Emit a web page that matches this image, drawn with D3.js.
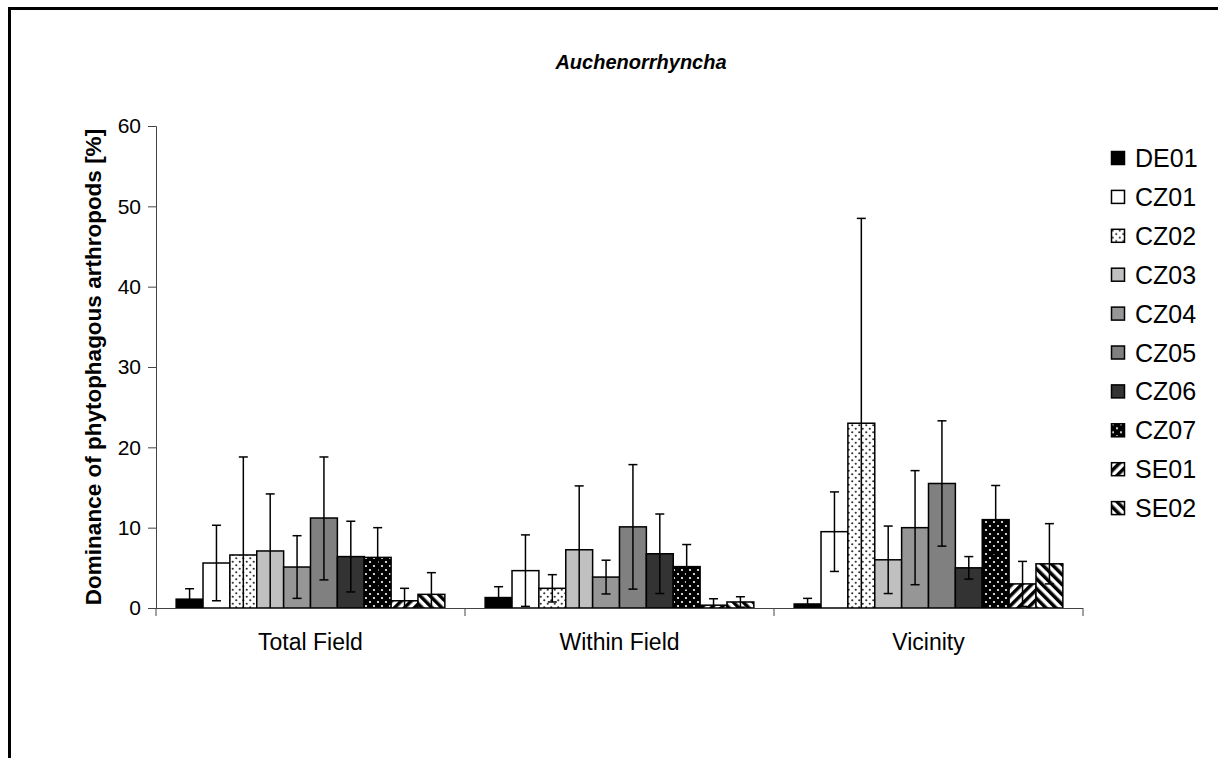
<!DOCTYPE html>
<html>
<head>
<meta charset="utf-8">
<script src="https://cdn.jsdelivr.net/npm/d3@7"></script>
<style>
  body { margin: 0; background: #fff; }
  svg { display: block; font-family: "Liberation Sans", Arial, sans-serif; }
</style>
</head>
<body>
<div id="chart"></div>
<script>
// Auchenorrhyncha dominance chart, grouped bars with error bars

const categories = ["Total Field", "Within Field", "Vicinity"];
const sites = ["DE01", "CZ01", "CZ02", "CZ03", "CZ04", "CZ05", "CZ06", "CZ07", "SE01", "SE02"];
const yTicks = [0, 10, 20, 30, 40, 50, 60];

// mean dominance per site
const totalField = [1.1, 5.6, 6.6, 7.1, 5.1, 11.2, 6.4, 6.3, 0.9, 1.7];
const withinField = [1.3, 4.65, 2.45, 7.25, 3.85, 10.1, 6.75, 5.15, 0.35, 0.75];
const vicinity = [0.5, 9.5, 23.0, 6.0, 10.0, 15.5, 5.0, 11.0, 3.0, 5.5];

// error bar extents (up / down)
const totalFieldErrUp = [1.3, 4.7, 12.2, 7.1, 3.9, 7.6, 4.4, 3.7, 1.55, 2.7];
const totalFieldErrDown = [1.3, 4.7, 12.2, 7.1, 3.9, 7.7, 4.4, 3.7, 1.55, 2.7];
const withinFieldErrUp = [1.35, 4.45, 1.7, 7.95, 2.1, 7.75, 4.95, 2.75, 0.8, 0.65];
const withinFieldErrDown = [1.35, 4.45, 1.7, 7.95, 2.1, 7.75, 4.95, 2.75, 0.8, 0.65];
const vicinityErrUp = [0.7, 4.95, 25.5, 4.2, 7.1, 7.8, 1.4, 4.25, 2.8, 5.0];
const vicinityErrDown = [0.7, 4.95, 25.5, 4.2, 7.1, 7.8, 1.4, 4.25, 2.8, 2.5];

const means = [totalField, withinField, vicinity];
const errsUp = [totalFieldErrUp, withinFieldErrUp, vicinityErrUp];
const errsDown = [totalFieldErrDown, withinFieldErrDown, vicinityErrDown];

const W = 1218, H = 758;
const plot = {left: 156, right: 1083, top: 126, bottom: 608};

const svg = d3.select("#chart").append("svg")
    .attr("width", W)
    .attr("height", H);

// fill patterns
const defs = svg.append("defs");

const dotsLight = defs.append("pattern")
    .attr("id", "dotsLight")
    .attr("patternUnits", "userSpaceOnUse")
    .attr("width", 7).attr("height", 7);
dotsLight.append("rect").attr("width", 7).attr("height", 7).attr("fill", "#fff");
dotsLight.append("circle").attr("cx", 1.75).attr("cy", 1.75).attr("r", 1.1).attr("fill", "#333");
dotsLight.append("circle").attr("cx", 5.25).attr("cy", 5.25).attr("r", 1.1).attr("fill", "#333");

const dotsDark = defs.append("pattern")
    .attr("id", "dotsDark")
    .attr("patternUnits", "userSpaceOnUse")
    .attr("width", 8).attr("height", 8);
dotsDark.append("rect").attr("width", 8).attr("height", 8).attr("fill", "#000");
dotsDark.append("circle").attr("cx", 2).attr("cy", 2).attr("r", 1.1).attr("fill", "#fff");
dotsDark.append("circle").attr("cx", 6).attr("cy", 6).attr("r", 1.1).attr("fill", "#fff");

function stripes(id, angle) {
    const p = defs.append("pattern")
        .attr("id", id)
        .attr("patternUnits", "userSpaceOnUse")
        .attr("width", 7).attr("height", 7)
        .attr("patternTransform", `rotate(${angle})`);
    p.append("rect").attr("width", 7).attr("height", 7).attr("fill", "#fff");
    p.append("rect").attr("width", 3.5).attr("height", 7).attr("fill", "#000");
}
stripes("stripeUp", 45);
stripes("stripeDown", -45);

const fills = ["#000", "#fff", "url(#dotsLight)", "#c0c0c0", "#969696",
    "#808080", "#333", "url(#dotsDark)", "url(#stripeUp)", "url(#stripeDown)"];

// outer frame
svg.append("rect")
    .attr("x", 9.5).attr("y", 8.5)
    .attr("width", W + 20).attr("height", H + 20)
    .attr("fill", "none")
    .attr("stroke", "#000")
    .attr("stroke-width", 3);

// scales
const x0 = d3.scaleBand()
    .domain(categories)
    .range([plot.left, plot.right])
    .padding(0);

const x1 = d3.scaleBand()
    .domain(sites)
    .range([0, x0.bandwidth()])
    .paddingInner(0)
    .paddingOuter(0.75);

const y = d3.scaleLinear()
    .domain([0, 60])
    .range([plot.bottom, plot.top]);

// bars
const rows = [];
categories.forEach((c, gi) => {
    sites.forEach((s, si) => {
        rows.push({cat: c, site: s, si, v: means[gi][si], up: errsUp[gi][si], down: errsDown[gi][si]});
    });
});

svg.append("g").selectAll("rect")
    .data(rows)
    .join("rect")
    .attr("x", d => x0(d.cat) + x1(d.site))
    .attr("y", d => y(d.v))
    .attr("width", x1.bandwidth())
    .attr("height", d => y(0) - y(d.v))
    .attr("fill", d => fills[d.si])
    .attr("stroke", "#000")
    .attr("stroke-width", 1.5);

// error bars
const capW = 4.5;
const eb = svg.append("g")
    .attr("stroke", "#000")
    .attr("stroke-width", 1.5);

rows.forEach(d => {
    const cx = x0(d.cat) + x1(d.site) + x1.bandwidth() / 2;
    const hi = d.v + d.up;
    const lo = Math.max(0, d.v - d.down);
    eb.append("line")
        .attr("x1", cx).attr("x2", cx)
        .attr("y1", y(hi)).attr("y2", y(lo));
    eb.append("line")
        .attr("x1", cx - capW).attr("x2", cx + capW)
        .attr("y1", y(hi)).attr("y2", y(hi));
    if (d.v - d.down > 0) {
        eb.append("line")
            .attr("x1", cx - capW).attr("x2", cx + capW)
            .attr("y1", y(lo)).attr("y2", y(lo));
    }
});

// y axis
const yAxis = svg.append("g")
    .attr("transform", `translate(${plot.left},0)`)
    .call(d3.axisLeft(y).tickValues(yTicks).tickSize(8).tickPadding(7));
yAxis.select(".domain").attr("stroke", "#444");
yAxis.selectAll(".tick line").attr("stroke", "#444");
yAxis.selectAll("text")
    .attr("font-size", 21)
    .attr("font-family", "Liberation Sans, Arial, sans-serif")
    .attr("fill", "#000");

// x axis: ticks at group boundaries
const xAxis = svg.append("g")
    .attr("transform", `translate(0,${plot.bottom})`);
xAxis.append("line")
    .attr("x1", plot.left).attr("x2", plot.right)
    .attr("y1", 0.5).attr("y2", 0.5)
    .attr("stroke", "#444");
const bounds = categories.map(c => x0(c)).concat([plot.right]);
xAxis.selectAll(".bt")
    .data(bounds)
    .join("line")
    .attr("x1", d => d).attr("x2", d => d)
    .attr("y1", 0).attr("y2", 8)
    .attr("stroke", "#444");
xAxis.selectAll(".cat")
    .data(categories)
    .join("text")
    .attr("x", d => x0(d) + x0.bandwidth() / 2)
    .attr("y", 42)
    .attr("text-anchor", "middle")
    .attr("font-size", 23)
    .text(d => d);

// y label
svg.append("text")
    .attr("transform", `translate(93,${(plot.top + plot.bottom) / 2}) rotate(-90)`)
    .attr("text-anchor", "middle")
    .attr("dominant-baseline", "central")
    .attr("font-size", 22.5)
    .attr("font-weight", "bold")
    .text("Dominance of phytophagous arthropods [%]");

// title
svg.append("text")
    .attr("x", 641)
    .attr("y", 69)
    .attr("text-anchor", "middle")
    .attr("font-size", 20)
    .attr("font-weight", "bold")
    .attr("font-style", "italic")
    .text("Auchenorrhyncha");

// legend
const legend = svg.append("g")
    .attr("transform", "translate(1111,158)");
const li = legend.selectAll("g")
    .data(sites)
    .join("g")
    .attr("transform", (d, i) => `translate(0,${i * 38.9})`);
li.append("rect")
    .attr("x", 0.5).attr("y", -6.5)
    .attr("width", 13).attr("height", 13)
    .attr("fill", (d, i) => fills[i])
    .attr("stroke", "#000")
    .attr("stroke-width", 1.5);
li.append("text")
    .attr("x", 24)
    .attr("y", 0)
    .attr("dominant-baseline", "central")
    .attr("font-size", 25)
    .text(d => d);
</script>
</body>
</html>
